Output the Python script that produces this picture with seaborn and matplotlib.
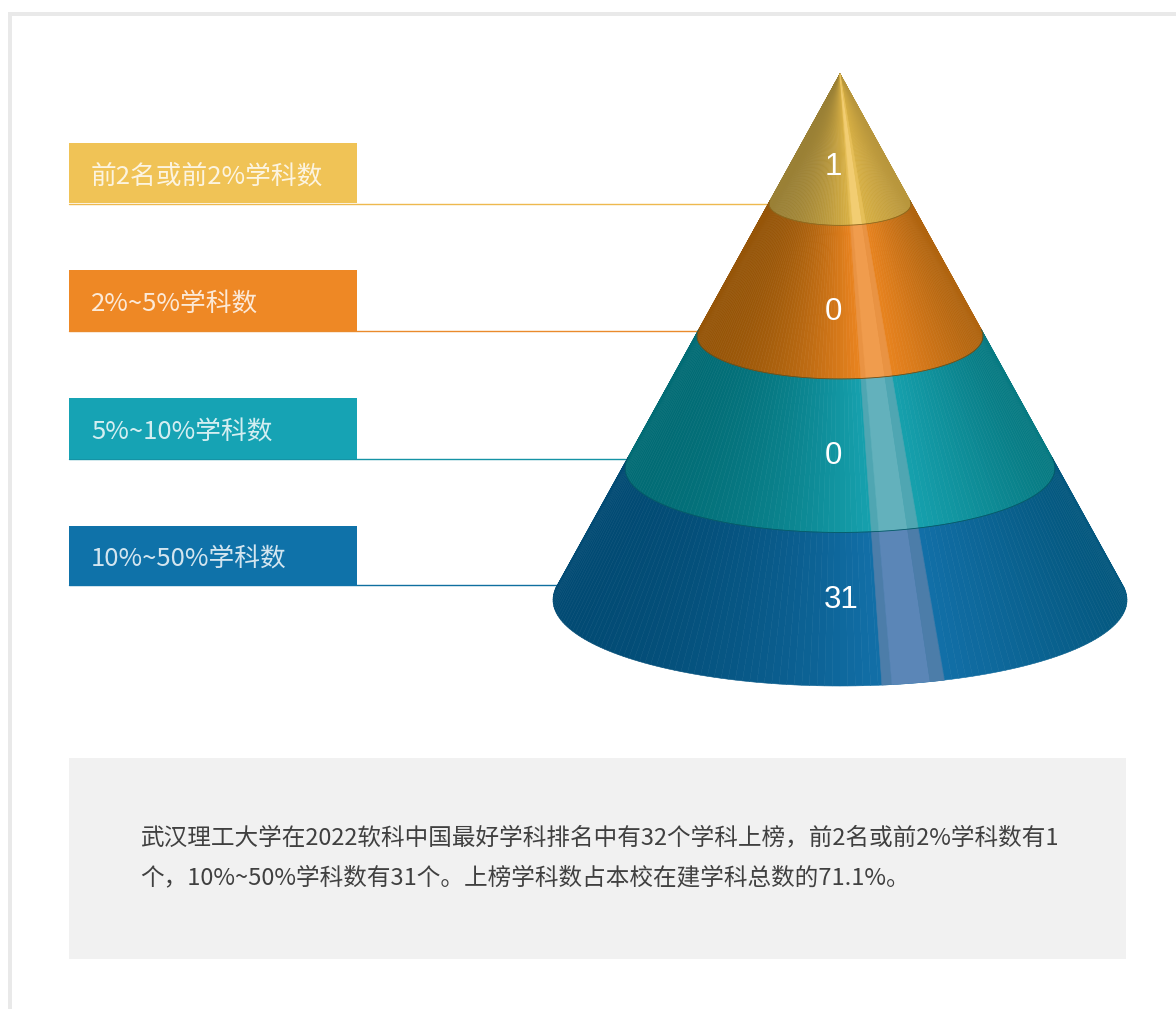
import numpy as np
import matplotlib
matplotlib.use("Agg")
import matplotlib.pyplot as plt
from matplotlib.patches import Rectangle
import seaborn as sns

# data
labels = ["前2名或前2%学科数", "2%~5%学科数", "5%~10%学科数", "10%~50%学科数"]
values = [1, 0, 0, 31]
box_colors = ["#f0c356", "#ee8825", "#16a3b4", "#0f72a9"]
line_colors = ["#eeb94f", "#ea8a2c", "#1593a5", "#0f6f9f"]
note_lines = [
    "武汉理工大学在2022软科中国最好学科排名中有32个学科上榜，前2名或前2%学科数有1",
    "个，10%~50%学科数有31个。上榜学科数占本校在建学科总数的71.1%。",
]

# cone shading, left edge / brightest / right edge, and the highlight colours
shade_left = ["#9a8035", "#965508", "#026c75", "#024b74"]
shade_mid = ["#d8b044", "#e8831f", "#16a0ad", "#126fa7"]
shade_right = ["#b8963c", "#b0640f", "#077a82", "#04587f"]
glow_soft = ["#e6bf58", "#e99343", "#4fa6b2", "#4c7da9"]
glow_core = ["#f2cd72", "#f09c4d", "#63b1bc", "#5b86b7"]
rim_colors = ["#8a6c22", "#7f4a08", "#045c66", "#024b74"]

# cone geometry in pixels
cx = 840
apex_y = 74
cone_h = 526
base_r = 287
base_b = 86
radii = [0, 71, 143, 215, 287]
value_y = [167, 312, 456, 600]
value_x = [833, 833, 833, 841]
line_y = [204, 331, 459, 585]
line_end = [768, 697, 625, 558]

sns.set_theme(style="white")
plt.rcParams["font.family"] = ["Noto Sans CJK SC", "DejaVu Sans"]

fig = plt.figure(figsize=(11.76, 10.09), dpi=100)
ax = fig.add_axes([0, 0, 1, 1])
ax.set_xlim(0, 1176)
ax.set_ylim(1009, 0)
ax.axis("off")

# page frame and note panel
ax.add_patch(Rectangle((8, 12), 1168, 4, color="#e9e9e9", lw=0))
ax.add_patch(Rectangle((8, 12), 4, 997, color="#e9e9e9", lw=0))
ax.add_patch(Rectangle((69, 758), 1057, 201, color="#f1f1f1", lw=0))


def rim(r, phi):
    s = r / base_r
    return cx + r * np.cos(phi), apex_y + s * (cone_h + base_b * np.sin(phi))


def strip(i, p0, p1, color, zorder=3):
    ps = np.linspace(p0, p1, 5)
    xb, yb = rim(radii[i + 1], ps)
    xt, yt = rim(radii[i], ps[::-1])
    ax.fill(np.r_[xb, xt], np.r_[yb, yt], color=color, lw=0.4, zorder=zorder)


def shade(i, t, pal_l, pal_r):
    # colour follows the x position on the cone, not the angle
    if t < 0.13:
        u = (t + 1) / 1.13
        return pal_l[int(min(u ** 1.8, 1) * 255)]
    if t < 0.37:
        return shade_mid[i]
    u = (t - 0.37) / 0.63
    return pal_r[int(min(u, 1) * 255)]


phi_end = np.arcsin(base_b / cone_h)
phis = np.linspace(np.pi + phi_end, -phi_end, 131)

for i in range(4):
    pal_l = sns.blend_palette([shade_left[i], shade_mid[i]], 256)
    pal_r = sns.blend_palette([shade_mid[i], shade_right[i]], 256)
    for k in range(len(phis) - 1):
        mid = (phis[k] + phis[k + 1]) / 2
        strip(i, phis[k], phis[k + 1], shade(i, np.cos(mid), pal_l, pal_r))
    strip(i, np.arccos(0.146), np.arccos(0.181), glow_soft[i], 4)
    strip(i, np.arccos(0.181), np.arccos(0.314), glow_core[i], 4)
    strip(i, np.arccos(0.314), np.arccos(0.363), glow_soft[i], 4)
    if i < 3:
        ps = np.linspace(np.pi + phi_end, -phi_end, 200)
        xr, yr = rim(radii[i + 1], ps)
        ax.plot(xr, yr, color=rim_colors[i], lw=0.6, zorder=5)

# leader lines
for i in range(4):
    ax.plot([69, line_end[i]], [line_y[i], line_y[i]], color=line_colors[i], lw=1, zorder=1)

# value labels on the cone
for i in range(4):
    ax.text(value_x[i], value_y[i], str(values[i]), color="white", fontsize=22.5,
            family="Liberation Sans", ha="center", va="center", zorder=6)

# note text
note_y = [838, 878]
for s, y in zip(note_lines, note_y):
    ax.text(140, y, s, color="#404040", fontsize=17, ha="left", va="center")

# coloured label boxes, one bar per category
ax_box = fig.add_axes([69 / 1176, 1 - 620 / 1009, 288 / 1176, 511 / 1009])
ax_box.patch.set_alpha(0)
sns.barplot(y=labels, x=[1, 1, 1, 1], hue=labels, palette=box_colors, width=0.475,
            saturation=1, legend=False, linewidth=0, ax=ax_box)
ax_box.set_xlim(0, 1)
ax_box.set_ylim(3.5, -0.5)
ax_box.axis("off")
for i, s in enumerate(labels):
    ax_box.text(0.076, i + 0.03, s, color="white", alpha=0.82, fontsize=18.5,
                ha="left", va="center")

fig.savefig("out.png", dpi=100)
